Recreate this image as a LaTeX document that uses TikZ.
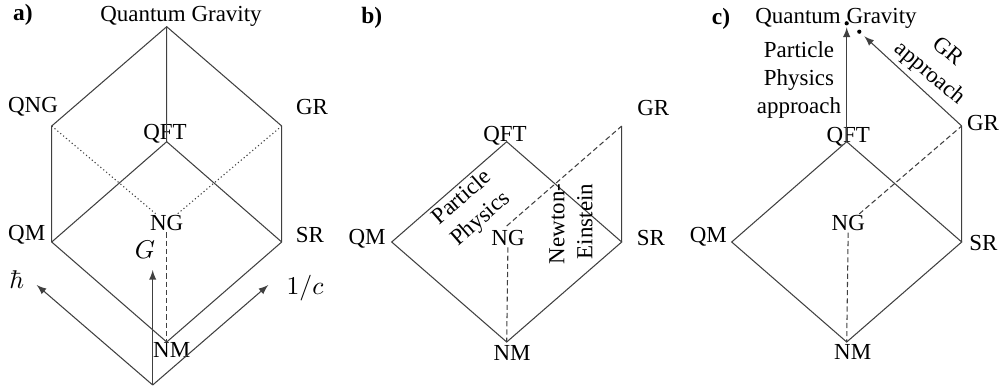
\documentclass[tikz,border=0pt]{standalone}
\usepackage[no-math]{fontspec}
\setmainfont{Liberation Serif}
\begin{document}
\begin{tikzpicture}[x=0.015cm,y=-0.015cm]
        \tikzset{lbl/.style={font=\fontsize{9.8}{12}\selectfont,inner sep=0.5pt},
                 mth/.style={font=\fontsize{10.8}{13}\selectfont,inner sep=0.5pt},
                 ttl/.style={font=\fontsize{10}{12}\selectfont\bfseries,inner sep=0.5pt},
                 solidln/.style={draw=black!75,line width=0.45pt},
                 dashln/.style={solidln,dash pattern=on 2.2pt off 1.3pt},
                 dotln/.style={solidln,dash pattern=on 0.5pt off 1.1pt},
                 qgdot/.style={circle,fill=black,inner sep=0pt,minimum size=1.8pt}};
        \useasboundingbox (0,0) rectangle (1004,390);
        % corners shared by the three panels
        \foreach \p/\dx in {a/0,b/340,c/680} {
            \coordinate (QFT\p) at (166.7+\dx,141.7);
            \coordinate (QM\p) at (51.7+\dx,242);
            \coordinate (SR\p) at (281.7+\dx,242);
            \coordinate (NM\p) at (166.7+\dx,342);
            \coordinate (GR\p) at (281.7+\dx,126);
        }
        % a)
        \node[ttl] (tita) at (23,15) {a)};
        \coordinate (QGa) at (166.7,26.7);
        \coordinate (QNGa) at (51.7,126);
        \node[lbl] (lQGa) at (181,16.7) {Quantum Gravity};
        \node[lbl] (lQNGa) at (33,107) {QNG};
        \node[lbl] (lGRa) at (312,107) {GR};
        \node[lbl] (lQFTa) at (165,133.3) {QFT};
        \node[lbl] (NGa) at (166.7,223) {NG};
        \node[lbl] (lQMa) at (26.7,235) {QM};
        \node[lbl] (lSRa) at (310,235) {SR};
        \node[lbl] (lNMa) at (171.7,350) {NM};
        \draw[solidln] (QGa) -- (QNGa) -- (QMa) -- (NMa) -- (SRa) -- (GRa) -- cycle;
        \draw[solidln] (QMa) -- (QFTa) -- (SRa) (QGa) -- (QFTa);
        \draw[dotln] (QNGa) -- (NGa) -- (GRa);
        \draw[dashln] (NGa) -- (NMa);
        \coordinate (Oa) at (152.7,385);
        \coordinate (hbtip) at (36.7,285);
        \coordinate (ctip) at (268.3,285);
        \coordinate (Gtip) at (152.7,270);
        \draw[solidln,-latex] (Oa) -- (hbtip);
        \draw[solidln,-latex] (Oa) -- (ctip);
        \draw[solidln,-latex] (Oa) -- (Gtip);
        \node[mth] (hbar) at (16.7,280) {$\hbar$};
        \node[mth] (invc) at (305,288) {$1/c$};
        \node[mth] (grav) at (145,249.3) {$G$};
        % b)
        \node[ttl] (titb) at (371.7,18.3) {b)};
        \coordinate (NGvb) at (506.7,226);
        \node[lbl] (lGRb) at (653.3,108.3) {GR};
        \node[lbl] (lQFTb) at (505,136) {QFT};
        \node[lbl] (NGb) at (508,238) {NG};
        \node[lbl] (lQMb) at (367,238.3) {QM};
        \node[lbl] (lSRb) at (651,238.3) {SR};
        \node[lbl] (lNMb) at (512,353) {NM};
        \draw[solidln] (QMb) -- (QFTb) -- (SRb) -- (NMb) -- cycle (SRb) -- (GRb);
        \draw[dashln] (NGvb) -- (GRb) (NGb) -- (NMb);
        \node[lbl,rotate=41,align=center] (ppb) at (471.7,208.7) {Particle\\Physics};
        \node[lbl,rotate=90,align=right] (neb) at (571,224) {Newton-\\Einstein};
        % c)
        \node[ttl] (titc) at (721,19) {c)};
        \node[lbl] (lQGc) at (836,18) {Quantum Gravity};
        \node[qgdot] (QGc) at (846.7,23.3) {};
        \node[qgdot] (QGrc) at (859.3,31.7) {};
        \node[lbl] (lGRc) at (983,123.3) {GR};
        \node[lbl] (lQFTc) at (848.3,136.7) {QFT};
        \node[lbl] (NGc) at (848.3,223.3) {NG};
        \node[lbl] (lQMc) at (708.3,236.7) {QM};
        \node[lbl] (lSRc) at (983.3,242.7) {SR};
        \node[lbl] (lNMc) at (852.7,351.7) {NM};
        \draw[solidln] (QMc) -- (QFTc) -- (SRc) -- (NMc) -- cycle (SRc) -- (GRc);
        \draw[dashln] (NGc) -- (GRc) (NGc) -- (NMc);
        \draw[solidln,-latex,shorten >=0.6pt] (QFTc) -- (QGc);
        \draw[solidln,-latex,shorten >=1.8pt] (GRc) -- (QGrc);
        \node[lbl,align=center] (ppc) at (799,80) {Particle\\Physics\\approach};
        \node[lbl,rotate=-40,align=center] (grc) at (938.3,63.3) {GR\\approach};
\end{tikzpicture}
\end{document}
